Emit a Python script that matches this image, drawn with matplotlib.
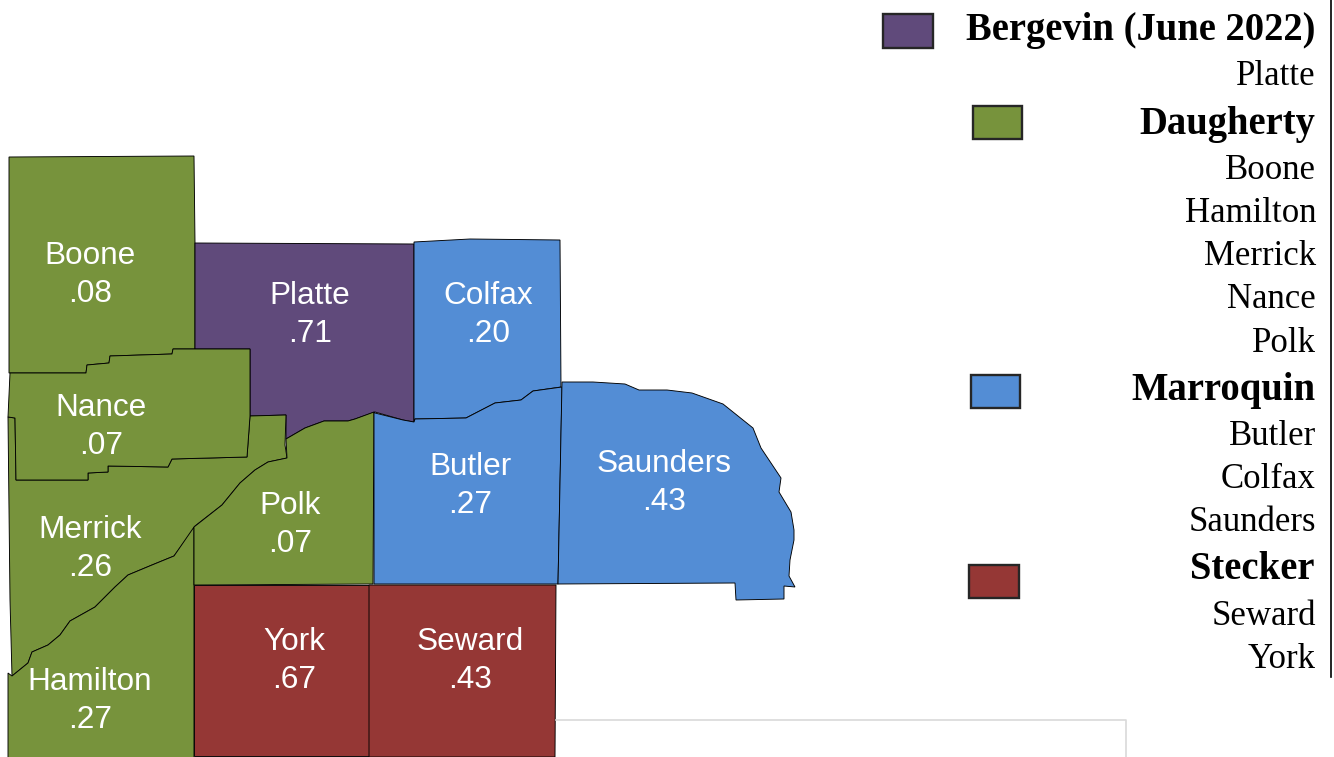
import matplotlib
matplotlib.use("Agg")
import matplotlib.pyplot as plt
from matplotlib.patches import Polygon, Rectangle

#=== Daten ===
counties = ["Boone", "Platte", "Colfax", "Nance", "Merrick", "Polk", "Butler", "Saunders", "York", "Seward", "Hamilton"]
values = [".08", ".71", ".20", ".07", ".26", ".07", ".27", ".43", ".67", ".43", ".27"]
winner = ["Daugherty", "Bergevin (June 2022)", "Marroquin", "Daugherty", "Daugherty", "Daugherty",
          "Marroquin", "Marroquin", "Stecker", "Stecker", "Daugherty"]

candidates = ["Bergevin (June 2022)", "Daugherty", "Marroquin", "Stecker"]
members = [["Platte"], ["Boone", "Hamilton", "Merrick", "Nance", "Polk"], ["Butler", "Colfax", "Saunders"], ["Seward", "York"]]
colors = {"Bergevin (June 2022)": "#604A7B", "Daugherty": "#77933C", "Marroquin": "#538DD5", "Stecker": "#953735"}

#=== Umrisse der Counties (Bildkoordinaten) ===
outlines = {
    "Boone": [(9, 157), (194, 156), (195, 243), (195, 349), (173, 349), (172, 354), (110, 356), (109, 363),
              (87, 365), (86, 373), (9, 373)],
    "Platte": [(195, 243), (414, 244), (414, 422), (403, 420), (375, 412), (355, 419), (348, 421), (324, 421),
               (305, 428), (286, 439), (286, 415), (250, 416), (250, 349), (195, 349)],
    "Colfax": [(414, 242), (470, 239), (560, 240), (561, 387), (533, 391), (521, 400), (495, 403), (466, 418),
               (415, 419), (414, 422)],
    "Merrick": [(8, 417), (15, 418), (16, 480), (88, 480), (88, 473), (108, 472), (108, 466), (168, 467),
                (172, 459), (247, 457), (250, 416), (286, 415), (285, 445), (287, 458), (268, 462), (255, 470),
                (240, 483), (222, 505), (195, 526), (193, 530), (174, 556), (152, 565), (128, 575), (115, 587),
                (95, 607), (70, 621), (60, 635), (48, 645), (32, 652), (28, 663), (12, 676), (10, 600)],
    "Nance": [(10, 373), (86, 373), (87, 365), (109, 363), (110, 356), (172, 354), (173, 349), (250, 349),
              (250, 416), (249, 430), (247, 457), (172, 459), (168, 467), (108, 466), (108, 472), (88, 473),
              (88, 480), (16, 480), (15, 418), (8, 417)],
    "Hamilton": [(8, 673), (12, 676), (28, 663), (32, 652), (48, 645), (60, 635), (70, 621), (95, 607), (115, 587),
                 (128, 575), (152, 565), (174, 556), (194, 527), (194, 760), (8, 760)],
    "Polk": [(194, 527), (222, 505), (240, 483), (255, 470), (268, 462), (287, 458), (286, 439), (305, 428),
             (324, 421), (348, 421), (355, 419), (374, 412), (373, 584), (194, 585)],
    "Butler": [(374, 412), (375, 413), (403, 420), (414, 422), (415, 419), (466, 418), (495, 403), (521, 400),
               (533, 391), (562, 387), (558, 584), (374, 584)],
    "Saunders": [(562, 382), (593, 382), (625, 384), (639, 390), (667, 390), (692, 393), (723, 404), (753, 428),
                 (761, 448), (781, 478), (779, 492), (791, 512), (794, 530), (794, 540), (790, 560), (789, 576),
                 (795, 587), (784, 586), (784, 599), (736, 600), (735, 583), (558, 584)],
    "York": [(194, 585), (369, 585), (369, 756), (194, 756)],
    "Seward": [(369, 585), (556, 585), (555, 757), (369, 757)],
}

label_pos = {"Boone": (90, 275), "Platte": (310, 315), "Colfax": (488, 315), "Nance": (101, 427), "Merrick": (90, 549),
             "Polk": (290, 525), "Butler": (470, 486), "Saunders": (664, 483), "York": (294, 661), "Seward": (470, 661),
             "Hamilton": (90, 701)}

#=== Legende: Grundlinien und Kästchen ===
head_base = [40, 134, 400, 579]
member_base = [[85], [179, 222, 265, 308, 352], [445, 488, 531], [625, 668]]
swatches = [(883, 14, 50, 34), (973, 106, 49, 33), (971, 375, 49, 33), (969, 565, 50, 33)]

fig = plt.figure(figsize=(13.34, 7.57), dpi=100)
ax = fig.add_axes([0, 0, 1, 1])
ax.set_xlim(0, 1334)
ax.set_ylim(757, 0)
ax.axis("off")

# Reste vom Rahmen
ax.plot([556, 1126, 1126], [720, 720, 757], color="#d9d9d9", lw=1.2)
ax.plot([1331, 1331], [0, 677], color="black", lw=1.2)

col_by_county = dict(zip(counties, winner))
for name in outlines:
    ax.add_patch(Polygon(outlines[name], closed=True, facecolor=colors[col_by_county[name]],
                         edgecolor="black", lw=0.65))

for name, val in zip(counties, values):
    x, y = label_pos[name]
    ax.text(x, y, name + "\n" + val, color="white", fontsize=22.7, family="Liberation Sans",
            ha="center", va="center", linespacing=1.34)

for i, cand in enumerate(candidates):
    x, y, w, h = swatches[i]
    ax.add_patch(Rectangle((x, y), w, h, facecolor=colors[cand], edgecolor="#262626", lw=1.7))
    ax.text(1315, head_base[i], cand, fontsize=27.8, fontweight="bold", family="Liberation Serif",
            ha="right", va="baseline", color="black")
    for m, b in zip(members[i], member_base[i]):
        ax.text(1316, b, m, fontsize=25, family="Liberation Serif", ha="right", va="baseline", color="black")

fig.savefig("out.png", dpi=100)
